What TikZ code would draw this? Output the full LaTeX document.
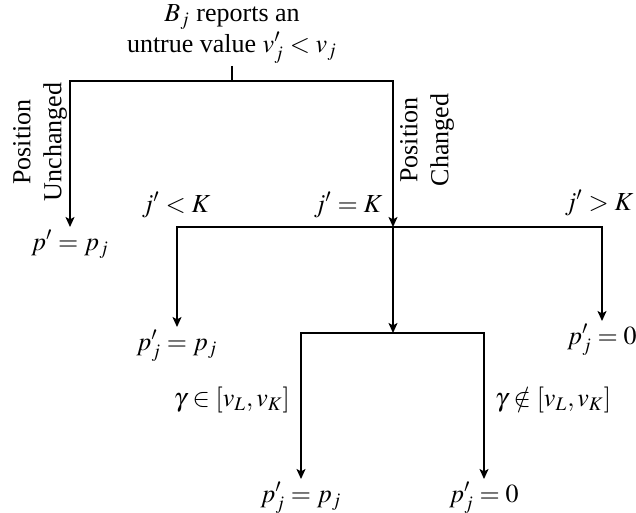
\documentclass[tikz,border=0pt]{standalone}
\usepackage{mathptmx}
\usepackage{fontspec}
\setmainfont{Liberation Serif}
\usepackage{tikz}
\usetikzlibrary{arrows.meta}

\begin{document}
\begin{tikzpicture}[
  x=0.5pt, y=-0.5pt,
  every node/.style={font=\fontsize{13}{15.5}\selectfont},
  leaf/.style={anchor=north, inner sep=1.5pt},
  branch/.style={rotate=90, align=center, inner sep=0pt},
  arrow/.style={->, thick, >={Stealth[length=5pt, width=4.5pt, inset=1.2pt]}}
]
\useasboundingbox (0,0) rectangle (636,513);

% Root (y=34)
\node[align=center, inner sep=1pt] at (232,34) (root) {$B_j$ reports an\\untrue value $v'_j < v_j$};

% Split points
\coordinate (s1) at (232,81);
\coordinate (s2) at (393,227);
\coordinate (s3) at (393,333);

% Level 1 (y=81)
\node[branch] at (40,142)  (unch) {Position\\Unchanged};
\node[branch] at (427,140) (chng) {Position\\Changed};
\node[leaf]   at (70,227)  (pu)   {$p' = p_j$};

% Level 2 (y=227)
\node at (176,205) (lt_lab) {$j' < K$};
\node at (348,205) (eq_lab) {$j' = K$};
\node at (599,203) (gt_lab) {$j' > K$};
\node[leaf] at (177,327) (lt) {$p'_j = p_j$};
\node[leaf] at (602,321) (gt) {$p'_j = 0$};

% Level 3 (y=333)
\node[anchor=east] at (297,400) (in_lab)  {$\gamma \in [v_L, v_K]$};
\node[anchor=west] at (488,400) (out_lab) {$\gamma \notin [v_L, v_K]$};
\node[leaf] at (301,479) (in)  {$p'_j = p_j$};
\node[leaf] at (484,479) (out) {$p'_j = 0$};

% Arrows
\draw[thick] (root) -- (s1);
\draw[arrow] (s1) -| (pu);
\draw[arrow] (s1) -| (s2);
\draw[arrow] (s2) -| (lt);
\draw[arrow] (s2) -| (gt);
\draw[arrow] (s2) -- (s3);
\draw[arrow] (s3) -| (in);
\draw[arrow] (s3) -| (out);
\end{tikzpicture}
\end{document}
